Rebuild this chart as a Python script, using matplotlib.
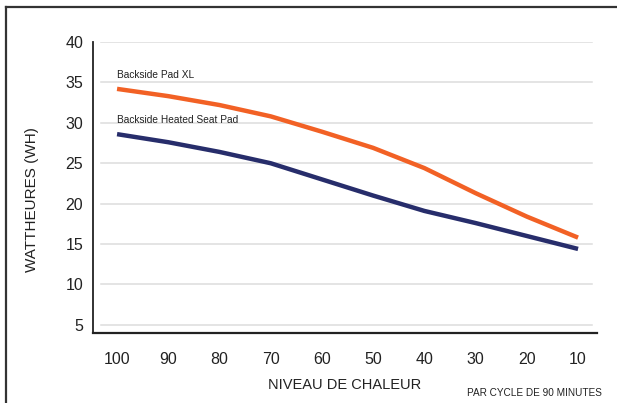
import matplotlib
matplotlib.use('Agg')
import matplotlib.pyplot as plt
from matplotlib.lines import Line2D

plt.rcParams['font.family'] = ['Liberation Sans', 'DejaVu Sans']

# niveaux de chaleur et consommation (Wh)
niveaux = [100, 90, 80, 70, 60, 50, 40, 30, 20, 10]
pad_xl = [34.2, 33.3, 32.2, 30.8, 28.9, 26.9, 24.4, 21.3, 18.4, 15.8]
seat_pad = [28.6, 27.6, 26.4, 25.0, 23.0, 21.0, 19.1, 17.6, 16.0, 14.4]
y_ticks = [5, 10, 15, 20, 25, 30, 35, 40]

orange = '#f26125'
navy = '#272d6b'

fig = plt.figure(figsize=(6.17, 4.03), dpi=100)
ax = fig.add_axes([0.1507, 0.1737, 0.8169, 0.7221])

# grille horizontale, un peu plus courte que les axes
for v in y_ticks:
    ax.axhline(v, xmin=0.016, xmax=0.99, color='#dcdcdc', lw=1.1, zorder=1)

ax.plot(niveaux, pad_xl, color=orange, lw=3.2, solid_capstyle='butt',
        solid_joinstyle='round', zorder=3)
ax.plot(niveaux, seat_pad, color=navy, lw=3.2, solid_capstyle='butt',
        solid_joinstyle='round', zorder=3)

ax.text(niveaux[0], pad_xl[0] + 1.1, 'Backside Pad XL', fontsize=7.3, color='#222222', va='bottom')
ax.text(niveaux[0], seat_pad[0] + 1.1, 'Backside Heated Seat Pad', fontsize=7.3, color='#222222', va='bottom')

ax.set_xlim(104.7, 6.3)
ax.set_ylim(4, 40)
ax.set_xticks(niveaux)
ax.set_yticks(y_ticks)
ax.tick_params(length=0, labelsize=11.5, colors='#222222')
ax.tick_params(axis='x', pad=14)
ax.tick_params(axis='y', pad=7)

for s in ['top', 'right']:
    ax.spines[s].set_visible(False)
ax.spines['left'].set_linewidth(1.3)
ax.spines['bottom'].set_linewidth(1.6)
ax.spines['left'].set_color('#222222')
ax.spines['bottom'].set_color('#222222')

ax.set_xlabel('NIVEAU DE CHALEUR', fontsize=10.5, labelpad=7.5, color='#222222')
ax.set_ylabel('WATTHEURES (WH)', fontsize=11, color='#222222')
ax.yaxis.set_label_coords(-0.107, 0.457)

fig.text(0.975, 0.012, 'PAR CYCLE DE 90 MINUTES', fontsize=7.2, ha='right', va='bottom', color='#222222')

# cadre gauche et haut
fig.add_artist(Line2D([6 / 617, 6 / 617], [0, 1 - 7 / 403], color='#333333', lw=1.6, transform=fig.transFigure))
fig.add_artist(Line2D([6 / 617, 1], [1 - 7 / 403, 1 - 7 / 403], color='#333333', lw=1.6, transform=fig.transFigure))

fig.savefig('out.png', dpi=100)
